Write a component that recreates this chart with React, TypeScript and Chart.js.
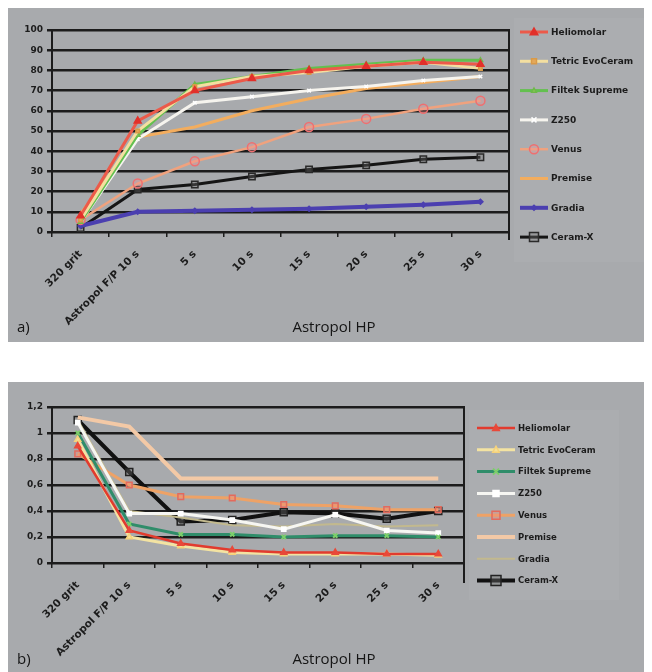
import React, { useEffect, useRef } from "react";
import { Chart, registerables } from "chart.js";
Chart.register(...registerables);

const categories = ["320 grit", "Astropol F/P 10 s", "5 s", "10 s", "15 s", "20 s", "25 s", "30 s"];
const seriesNames = ["Heliomolar", "Tetric EvoCeram", "Filtek Supreme", "Z250", "Venus", "Premise", "Gradia", "Ceram-X"];

// chart a) values
const aHeliomolar = [8, 55, 70, 76, 80, 82, 84, 83];
const aTetric = [6, 50, 72, 77, 79, 82, 84, 81];
const aFiltek = [5, 48, 73, 77, 81, 83, 85, 85];
const aZ250 = [5, 46, 64, 67, 70, 72, 75, 77];
const aVenus = [6, 24, 35, 42, 52, 56, 61, 65];
const aPremise = [9, 47, 52, 60, 66, 71, 74, 77];
const aGradia = [3, 10, 10.5, 11, 11.5, 12.5, 13.5, 15];
const aCeramX = [2, 21, 23.5, 27.5, 31, 33, 36, 37];
const aTicks = { min: 0, max: 100, step: 10 };

// chart b) values
const bHeliomolar = [0.9, 0.25, 0.15, 0.1, 0.08, 0.08, 0.07, 0.07];
const bTetric = [0.95, 0.2, 0.13, 0.08, 0.07, 0.07, 0.07, 0.06];
const bFiltek = [1.0, 0.3, 0.22, 0.22, 0.2, 0.21, 0.21, 0.2];
const bZ250 = [1.08, 0.38, 0.38, 0.33, 0.26, 0.37, 0.25, 0.23];
const bVenus = [0.84, 0.6, 0.51, 0.5, 0.45, 0.44, 0.41, 0.41];
const bPremise = [1.12, 1.05, 0.65, 0.65, 0.65, 0.65, 0.65, 0.65];
const bGradia = [1.1, 0.4, 0.35, 0.29, 0.28, 0.3, 0.28, 0.29];
const bCeramX = [1.1, 0.7, 0.32, 0.33, 0.39, 0.38, 0.34, 0.4];
const bTicks = { min: 0, max: 1.2, step: 0.2 };

const xTitle = "Astropol HP";

const BG = "#a8aaad";
const LEGEND_BG = "#abadb0";
const INK = "#1c1c1c";
const BOLD_FAMILY = "'DejaVu Sans', 'Liberation Sans', Arial, sans-serif";

function drawMarker(ctx: CanvasRenderingContext2D, style: string, x: number, y: number, r: number, fill: string, stroke: string, lw: number) {
  if (!style || r <= 0) return;
  ctx.save();
  ctx.fillStyle = fill;
  ctx.strokeStyle = stroke;
  ctx.lineWidth = lw;
  ctx.beginPath();
  if (style === "triangle") {
    ctx.moveTo(x, y - r);
    ctx.lineTo(x + r * 0.95, y + r * 0.7);
    ctx.lineTo(x - r * 0.95, y + r * 0.7);
    ctx.closePath();
    ctx.fill();
    ctx.stroke();
  } else if (style === "rect") {
    ctx.rect(x - r, y - r, 2 * r, 2 * r);
    ctx.fill();
    ctx.stroke();
  } else if (style === "rectRot") {
    ctx.moveTo(x, y - r);
    ctx.lineTo(x + r, y);
    ctx.lineTo(x, y + r);
    ctx.lineTo(x - r, y);
    ctx.closePath();
    ctx.fill();
    ctx.stroke();
  } else if (style === "circle") {
    ctx.arc(x, y, r, 0, Math.PI * 2);
    ctx.fill();
    ctx.stroke();
  } else if (style === "crossRot") {
    ctx.moveTo(x - r, y - r);
    ctx.lineTo(x + r, y + r);
    ctx.moveTo(x + r, y - r);
    ctx.lineTo(x - r, y + r);
    ctx.stroke();
  }
  ctx.restore();
}

type PanelCfg = {
  width: number;
  height: number;
  area: { left: number; right: number; top: number; bottom: number };
  borderBottom: number;
  legend: { x1: number; x2: number; tx: number; y0: number; dy: number; font: string; bg: { x: number; y: number; w: number; h: number } };
  letter: string;
  textY: number;
  gridWidth: number;
  xFont: number;
};

function makeDecoPlugin(cfg: PanelCfg) {
  return {
    id: "deco",
    beforeDraw(chart: any) {
      const ctx = chart.ctx as CanvasRenderingContext2D;
      ctx.save();
      ctx.fillStyle = BG;
      ctx.fillRect(0, 0, chart.width, chart.height);
      const b = cfg.legend.bg;
      ctx.fillStyle = LEGEND_BG;
      ctx.fillRect(b.x, b.y, b.w, b.h);
      ctx.restore();
    },
    afterDraw(chart: any) {
      const ctx = chart.ctx as CanvasRenderingContext2D;
      const ca = chart.chartArea;
      ctx.save();
      // right border line
      ctx.strokeStyle = INK;
      ctx.lineWidth = 2;
      ctx.beginPath();
      ctx.moveTo(ca.right, ca.top - 1);
      ctx.lineTo(ca.right, cfg.borderBottom);
      ctx.stroke();
      // legend
      const L = cfg.legend;
      chart.data.datasets.forEach((ds: any, i: number) => {
        const y = L.y0 + i * L.dy;
        ctx.strokeStyle = ds.borderColor;
        ctx.lineWidth = ds.borderWidth;
        ctx.beginPath();
        ctx.moveTo(L.x1, y);
        ctx.lineTo(L.x2, y);
        ctx.stroke();
        drawMarker(ctx, ds.pointStyle, (L.x1 + L.x2) / 2, y, ds.pointRadius, ds.pointBackgroundColor, ds.pointBorderColor, ds.pointBorderWidth);
        ctx.fillStyle = INK;
        ctx.font = L.font;
        ctx.textAlign = "left";
        ctx.textBaseline = "middle";
        ctx.fillText(ds.label, L.tx, y + 0.5);
      });
      // letter and axis title
      ctx.fillStyle = "#151515";
      ctx.font = "15px 'Open Sans', 'Liberation Sans', sans-serif";
      ctx.textBaseline = "middle";
      ctx.textAlign = "left";
      ctx.fillText(cfg.letter, 9, cfg.textY);
      ctx.textAlign = "center";
      ctx.fillText(xTitle, 326, cfg.textY);
      ctx.restore();
    },
  };
}

function LineChartPanel({ datasets, ticks, cfg, fmt }: { datasets: any[]; ticks: { min: number; max: number; step: number }; cfg: PanelCfg; fmt: (v: number) => string }) {
  const ref = useRef<HTMLCanvasElement | null>(null);
  useEffect(() => {
    if (!ref.current) return;
    const chart = new Chart(ref.current, {
      type: "line",
      data: { labels: categories, datasets },
      plugins: [makeDecoPlugin(cfg)],
      options: {
        animation: false,
        responsive: false,
        maintainAspectRatio: false,
        layout: {
          padding: { top: cfg.area.top, left: 0, right: cfg.width - cfg.area.right, bottom: 0 },
        },
        plugins: { legend: { display: false }, tooltip: { enabled: false } },
        elements: { line: { tension: 0 } },
        scales: {
          x: {
            type: "category",
            offset: true,
            grid: { display: true, drawOnChartArea: false, drawTicks: true, tickLength: 5, color: INK, lineWidth: 1.5, offset: true },
            border: { display: false },
            ticks: {
              autoSkip: false,
              maxRotation: 45,
              minRotation: 45,
              padding: 11,
              color: INK,
              font: { family: BOLD_FAMILY, size: cfg.xFont, weight: "bold" },
            },
            afterFit: (s: any) => {
              s.height = cfg.height - cfg.area.bottom;
            },
          },
          y: {
            min: ticks.min,
            max: ticks.max,
            grid: { color: INK, lineWidth: cfg.gridWidth, tickLength: 5, drawTicks: true },
            border: { display: true, color: INK, width: 2 },
            ticks: {
              stepSize: ticks.step,
              padding: 4,
              color: INK,
              font: { family: BOLD_FAMILY, size: 9, weight: "bold" },
              callback: (v: any) => fmt(Number(v)),
            },
            afterFit: (s: any) => {
              s.width = cfg.area.left;
            },
          },
        },
      },
    });
    return () => chart.destroy();
  }, []);
  return (
    <canvas
      ref={ref}
      width={cfg.width}
      height={cfg.height}
      style={{ width: cfg.width, height: cfg.height, display: "block" }}
    />
  );
}

function ds(label: string, data: number[], color: string, width: number, style: string, radius: number, fill: string, stroke: string, pbw = 1.5) {
  return {
    label,
    data,
    borderColor: color,
    backgroundColor: color,
    borderWidth: width,
    pointStyle: style || false,
    pointRadius: radius,
    pointBackgroundColor: fill,
    pointBorderColor: stroke,
    pointBorderWidth: pbw,
    pointHoverRadius: radius,
  };
}

const aDatasets = [
  ds(seriesNames[0], aHeliomolar, "#ec5a4a", 3, "triangle", 4, "#e2302a", "#e2302a"),
  ds(seriesNames[1], aTetric, "#f3dfa0", 3, "rect", 2.5, "#e3a85a", "#d99a48"),
  ds(seriesNames[2], aFiltek, "#63c04f", 3, "triangle", 2.5, "#8fcf5a", "#6fb84a"),
  ds(seriesNames[3], aZ250, "#f6f4ee", 3, "crossRot", 2.5, "#ffffff", "#ffffff"),
  ds(seriesNames[4], aVenus, "#f0a27e", 2.5, "circle", 4.5, "rgba(240,150,150,0.35)", "#ef6f70", 1.5),
  ds(seriesNames[5], aPremise, "#f3ad5e", 3, "", 0, "#f3ad5e", "#f3ad5e"),
  ds(seriesNames[6], aGradia, "#4b3fb0", 4, "rectRot", 2.5, "#4b3fb0", "#4b3fb0"),
  ds(seriesNames[7], aCeramX, "#151515", 3, "rect", 4.5, "rgba(120,120,120,0.35)", "#2a2a2a", 1.5),
];

const bDatasets = [
  ds(seriesNames[0], bHeliomolar, "#e23b2e", 2.5, "triangle", 3.5, "#e8493a", "#e8493a"),
  ds(seriesNames[1], bTetric, "#f3e3a2", 3, "triangle", 3.5, "#f6e19a", "#f6d27a"),
  ds(seriesNames[2], bFiltek, "#2f8d6a", 3, "crossRot", 3, "#7ccf6a", "#7ccf6a", 2),
  ds(seriesNames[3], bZ250, "#f6f6f2", 3, "rect", 3, "#ffffff", "#ffffff"),
  ds(seriesNames[4], bVenus, "#eea266", 3, "rect", 4, "rgba(240,140,120,0.4)", "#e46a5c", 1.5),
  ds(seriesNames[5], bPremise, "#f3c9a6", 4, "", 0, "#f3c9a6", "#f3c9a6"),
  ds(seriesNames[6], bGradia, "#c2b98e", 2, "", 0, "#c2b98e", "#c2b98e"),
  ds(seriesNames[7], bCeramX, "#111111", 4, "rect", 5, "rgba(110,110,110,0.4)", "#222222", 1.5),
];

const aCfg: PanelCfg = {
  width: 644,
  height: 334,
  area: { left: 44, right: 501, top: 22, bottom: 224 },
  borderBottom: 232,
  legend: {
    x1: 512,
    x2: 540,
    tx: 543,
    y0: 24,
    dy: 29.3,
    font: "bold 9px " + BOLD_FAMILY,
    bg: { x: 506, y: 10, w: 130, h: 244 },
  },
  letter: "a)",
  textY: 320,
  gridWidth: 2.5,
  xFont: 10.5,
};

const bCfg: PanelCfg = {
  width: 644,
  height: 290,
  area: { left: 44, right: 456, top: 25, bottom: 181 },
  borderBottom: 201,
  legend: {
    x1: 469,
    x2: 507,
    tx: 510,
    y0: 46,
    dy: 21.8,
    font: "bold 8.5px " + BOLD_FAMILY,
    bg: { x: 461, y: 28, w: 150, h: 190 },
  },
  letter: "b)",
  textY: 278,
  gridWidth: 2.5,
  xFont: 10.5,
};

const fmtA = (v: number) => String(Math.round(v));
const fmtB = (v: number) => String(Math.round(v * 10) / 10).replace(".", ",");

export default function App() {
  return (
    <div style={{ position: "relative", width: 644, height: 664 }}>
      <div style={{ position: "absolute", left: 0, top: 0 }}>
        <LineChartPanel datasets={aDatasets} ticks={aTicks} cfg={aCfg} fmt={fmtA} />
      </div>
      <div style={{ position: "absolute", left: 0, top: 374 }}>
        <LineChartPanel datasets={bDatasets} ticks={bTicks} cfg={bCfg} fmt={fmtB} />
      </div>
    </div>
  );
}
